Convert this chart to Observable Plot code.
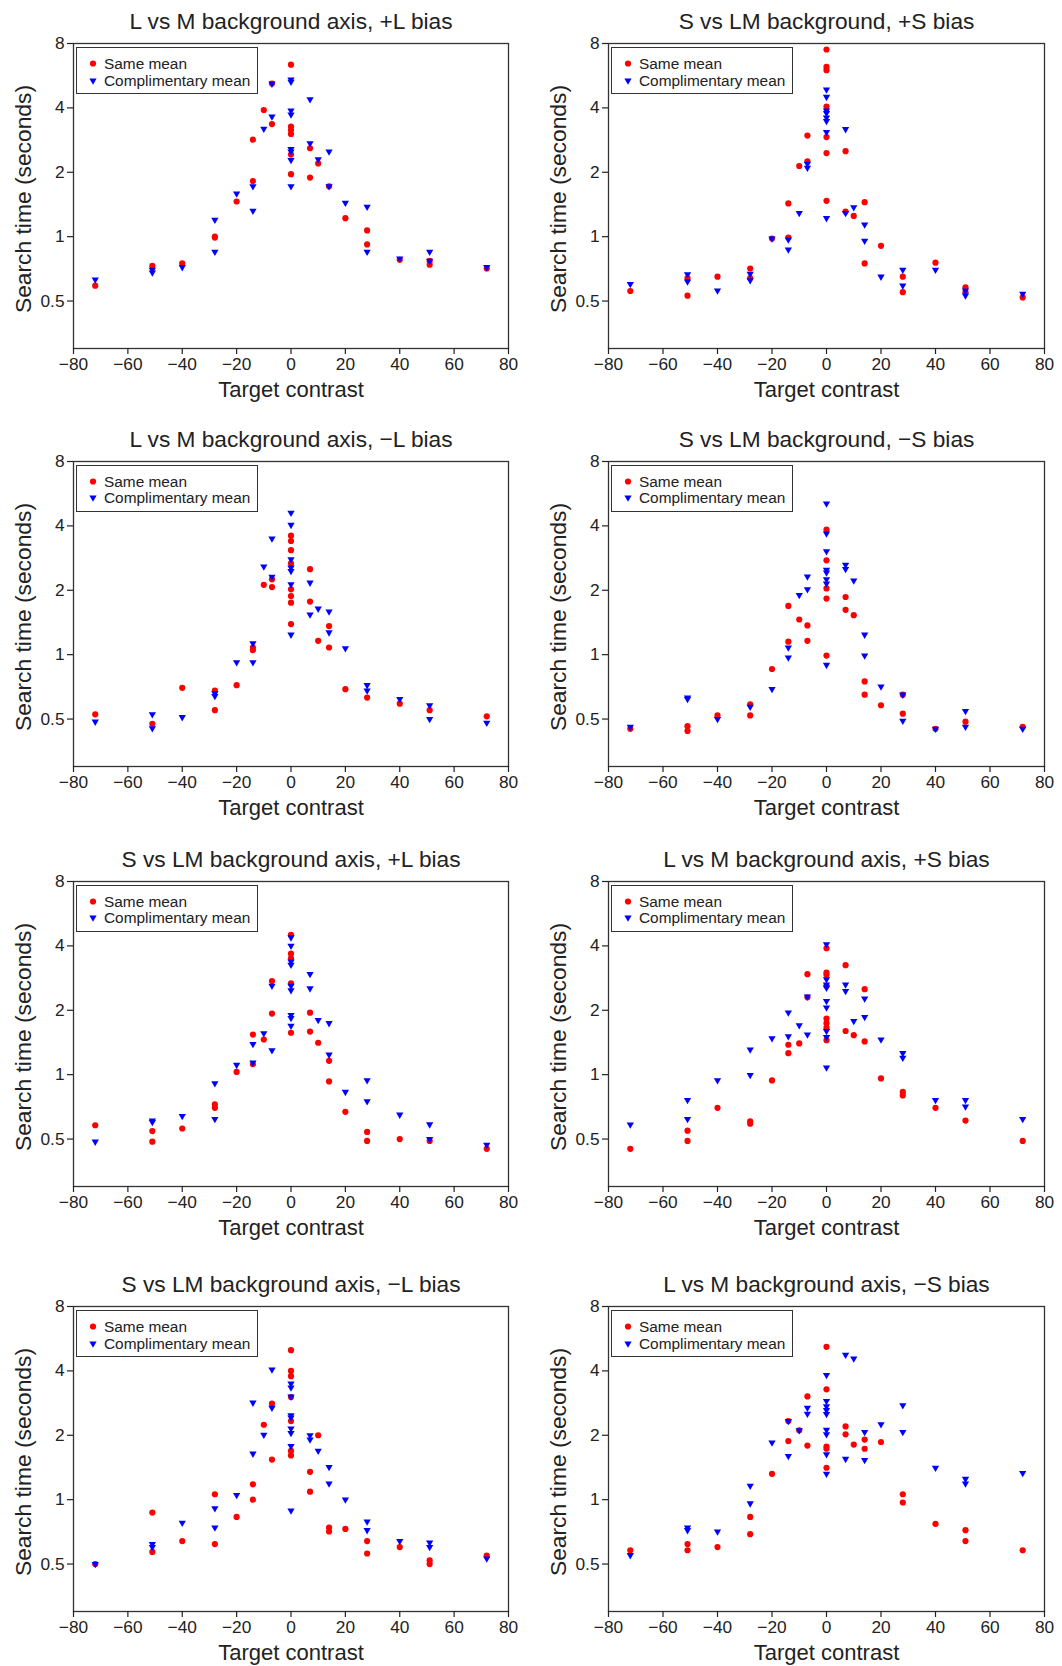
<!DOCTYPE html>
<html><head><meta charset="utf-8">
<script src="https://cdn.jsdelivr.net/npm/d3@7"></script>
<script src="https://cdn.jsdelivr.net/npm/@observablehq/plot@0.6"></script>
<style>
html,body{margin:0;padding:0;background:#fff;overflow:hidden}
#root{position:relative;width:1062px;height:1666px;overflow:hidden;font-family:"Liberation Sans",Arial,sans-serif;background:#fff}
.panel{position:absolute}
.panel svg{overflow:visible}
.legend{position:absolute;width:182px;height:47px;border:1.3px solid #333;box-sizing:border-box;background:#fff;font-size:15.4px;color:#222}
.legend .row{position:absolute;left:0;height:17px;line-height:17px;white-space:nowrap}
.legend svg{position:absolute;left:0;top:0;overflow:visible}
.legend span{position:absolute;left:27px;top:0}
</style>
</head><body><div id="root"></div>
<script>
const titles = [
  "L vs M background axis, +L bias",
  "S vs LM background, +S bias",
  "L vs M background axis, \u2212L bias",
  "S vs LM background, \u2212S bias",
  "S vs LM background axis, +L bias",
  "L vs M background axis, +S bias",
  "S vs LM background axis, \u2212L bias",
  "L vs M background axis, \u2212S bias"
];
const seriesNames = ["Same mean", "Complimentary mean"];
const xTicks = [-80, -60, -40, -20, 0, 20, 40, 60, 80];
const yTicks = [0.5, 1, 2, 4, 8];
const xLabel = "Target contrast";
const yLabel = "Search time (seconds)";

const p1Same = [[-72,0.59],[-51,0.73],[-40,0.75],[-28,0.99],[-28,1.0],[-20,1.46],[-14,2.84],[-14,1.82],[-10,3.91],[-7,5.2],[-7,3.36],[0,6.37],[0,3.27],[0,3.15],[0,3.02],[0,2.42],[0,1.96],[7,2.59],[7,1.89],[10,2.2],[14,1.72],[20,1.22],[28,1.07],[28,0.92],[40,0.78],[51,0.77],[51,0.74],[72,0.71]];
const p1Comp = [[-72,0.63],[-51,0.68],[-51,0.70],[-40,0.72],[-28,1.2],[-28,0.85],[-20,1.59],[-14,1.72],[-14,1.32],[-10,3.19],[-7,5.19],[-7,3.64],[0,5.42],[0,5.3],[0,3.89],[0,3.72],[0,2.57],[0,2.50],[0,2.28],[0,1.72],[7,4.39],[7,2.73],[10,2.30],[14,2.50],[14,1.72],[20,1.44],[28,1.38],[28,0.85],[40,0.79],[51,0.85],[51,0.77],[72,0.72]];

const p2Same = [[-72,0.557],[-51,0.64],[-51,0.53],[-40,0.65],[-28,0.71],[-28,0.64],[-20,0.98],[-14,1.43],[-14,0.99],[-10,2.14],[-7,2.97],[-7,2.25],[0,7.5],[0,6.22],[0,6.0],[0,4.06],[0,2.92],[0,2.46],[0,1.47],[7,2.51],[7,1.31],[10,1.25],[14,1.45],[14,0.75],[20,0.906],[28,0.65],[28,0.55],[40,0.756],[51,0.58],[51,0.55],[72,0.52]];
const p2Comp = [[-72,0.60],[-51,0.667],[-51,0.616],[-40,0.56],[-28,0.67],[-28,0.625],[-20,0.98],[-14,0.97],[-14,0.87],[-10,1.29],[-7,2.19],[-7,2.10],[0,4.87],[0,4.50],[0,3.89],[0,3.78],[0,3.60],[0,3.47],[0,3.08],[0,1.22],[7,3.18],[7,1.29],[10,1.37],[14,1.14],[14,0.956],[20,0.65],[28,0.70],[28,0.59],[40,0.70],[51,0.56],[51,0.53],[72,0.54]];

const p3Same = [[-72,0.526],[-51,0.475],[-40,0.70],[-28,0.68],[-28,0.55],[-20,0.72],[-14,1.08],[-14,1.05],[-10,2.12],[-7,2.25],[-7,2.07],[0,3.6],[0,3.4],[0,3.08],[0,2.67],[0,2.02],[0,1.88],[0,1.75],[0,1.39],[7,2.51],[7,1.77],[10,1.16],[14,1.36],[14,1.08],[20,0.69],[28,0.63],[40,0.59],[51,0.55],[72,0.515]];
const p3Comp = [[-72,0.486],[-51,0.526],[-51,0.452],[-40,0.51],[-28,0.66],[-28,0.64],[-20,0.92],[-14,1.13],[-14,0.92],[-10,2.58],[-7,3.49],[-7,2.31],[0,4.60],[0,4.04],[0,2.79],[0,2.55],[0,2.46],[0,2.13],[0,1.24],[7,2.17],[7,1.54],[10,1.64],[14,1.59],[14,1.27],[20,1.07],[28,0.72],[28,0.68],[40,0.62],[51,0.58],[51,0.50],[72,0.48]];

const p4Same = [[-72,0.45],[-51,0.463],[-51,0.44],[-40,0.52],[-28,0.586],[-28,0.52],[-20,0.857],[-14,1.69],[-14,1.15],[-10,1.46],[-7,1.37],[-7,1.16],[0,3.84],[0,2.76],[0,2.04],[0,1.83],[0,0.99],[7,1.86],[7,1.62],[10,1.53],[14,0.75],[14,0.65],[20,0.58],[28,0.65],[28,0.53],[40,0.45],[51,0.486],[72,0.46]];
const p4Comp = [[-72,0.46],[-51,0.63],[-51,0.62],[-40,0.50],[-28,0.57],[-20,0.69],[-14,1.08],[-14,0.97],[-10,1.90],[-7,2.32],[-7,2.02],[0,5.09],[0,3.68],[0,3.04],[0,2.49],[0,2.42],[0,2.25],[0,2.15],[0,0.895],[7,2.63],[7,2.51],[10,2.22],[14,1.24],[14,0.99],[20,0.71],[28,0.65],[28,0.49],[40,0.45],[51,0.545],[51,0.46],[72,0.45]];

const p5Same = [[-72,0.58],[-51,0.545],[-51,0.486],[-40,0.56],[-28,0.726],[-28,0.70],[-20,1.03],[-14,1.54],[-14,1.12],[-10,1.46],[-7,2.74],[-7,1.93],[0,4.50],[0,3.68],[0,3.50],[0,2.67],[0,1.57],[7,1.95],[7,1.59],[10,1.41],[14,1.16],[14,0.93],[20,0.67],[28,0.54],[28,0.49],[40,0.50],[51,0.49],[72,0.45]];
const p5Comp = [[-72,0.486],[-51,0.61],[-51,0.60],[-40,0.64],[-28,0.91],[-28,0.62],[-20,1.11],[-14,1.39],[-14,1.14],[-10,1.56],[-7,2.60],[-7,1.30],[0,4.38],[0,4.0],[0,3.38],[0,3.26],[0,2.60],[0,2.48],[0,1.90],[0,1.84],[0,1.69],[7,2.95],[7,2.53],[10,1.80],[14,1.74],[14,1.24],[20,0.83],[28,0.94],[28,0.75],[40,0.65],[51,0.585],[51,0.50],[72,0.47]];

const p6Same = [[-72,0.45],[-51,0.547],[-51,0.49],[-40,0.70],[-28,0.605],[-28,0.59],[-20,0.94],[-14,1.38],[-14,1.26],[-10,1.40],[-7,2.95],[-7,2.3],[0,3.90],[0,3.0],[0,2.93],[0,2.6],[0,1.83],[0,1.74],[0,1.66],[0,1.45],[7,3.25],[7,1.60],[10,1.53],[14,2.51],[14,1.43],[20,0.96],[28,0.83],[28,0.80],[40,0.70],[51,0.61],[72,0.49]];
const p6Comp = [[-72,0.584],[-51,0.76],[-51,0.62],[-40,0.94],[-28,1.31],[-28,0.995],[-20,1.48],[-14,1.95],[-14,1.51],[-10,1.70],[-7,2.32],[-7,1.54],[0,4.07],[0,2.79],[0,2.64],[0,2.55],[0,2.21],[0,2.06],[0,1.60],[0,1.50],[0,1.08],[7,2.64],[7,2.46],[10,1.78],[14,2.27],[14,1.86],[20,1.46],[28,1.26],[28,1.20],[40,0.76],[51,0.76],[51,0.71],[72,0.62]];

const p7Same = [[-72,0.50],[-51,0.87],[-51,0.57],[-40,0.64],[-28,1.06],[-28,0.62],[-20,0.83],[-14,1.18],[-14,1.0],[-10,2.24],[-7,2.81],[-7,1.54],[0,5.0],[0,4.0],[0,3.78],[0,3.02],[0,2.33],[0,1.69],[0,1.61],[7,1.35],[7,1.09],[10,2.0],[14,0.74],[14,0.71],[20,0.73],[28,0.64],[28,0.56],[40,0.60],[51,0.52],[51,0.50],[72,0.547]];
const p7Comp = [[-72,0.50],[-51,0.62],[-51,0.60],[-40,0.78],[-28,0.91],[-28,0.74],[-20,1.05],[-14,2.84],[-14,1.64],[-10,2.01],[-7,4.06],[-7,2.69],[0,3.49],[0,3.34],[0,3.03],[0,2.48],[0,2.42],[0,2.15],[0,2.05],[0,1.78],[0,0.89],[7,2.0],[7,1.91],[10,1.69],[14,1.42],[14,1.19],[20,1.0],[28,0.79],[28,0.72],[40,0.64],[51,0.63],[51,0.60],[72,0.53]];

const p8Same = [[-72,0.58],[-51,0.62],[-51,0.58],[-40,0.60],[-28,0.83],[-28,0.69],[-20,1.32],[-14,2.33],[-14,1.88],[-10,2.11],[-7,3.04],[-7,1.79],[0,5.18],[0,3.28],[0,1.77],[0,1.73],[0,1.41],[7,2.20],[7,2.02],[10,1.81],[14,1.91],[14,1.73],[20,1.86],[28,1.06],[28,0.97],[40,0.77],[51,0.72],[51,0.64],[72,0.58]];
const p8Comp = [[-72,0.55],[-51,0.74],[-51,0.72],[-40,0.71],[-28,1.16],[-28,0.96],[-20,1.85],[-14,2.33],[-14,1.60],[-10,2.11],[-7,2.69],[-7,2.52],[0,3.82],[0,2.89],[0,2.73],[0,2.62],[0,2.51],[0,2.12],[0,2.02],[0,1.63],[0,1.32],[7,4.75],[7,1.55],[10,4.57],[14,2.07],[14,1.53],[20,2.25],[28,2.76],[28,2.07],[40,1.41],[51,1.25],[51,1.19],[72,1.33]];

const sameSeries = [p1Same, p2Same, p3Same, p4Same, p5Same, p6Same, p7Same, p8Same];
const compSeries = [p1Comp, p2Comp, p3Comp, p4Comp, p5Comp, p6Comp, p7Comp, p8Comp];

const RED = "#ff0000", BLUE = "#0000ff", INK = "#222";
const colLeft = [0, 531];
const rowTop = [0, 417.5, 837.5, 1263];
const mLeft = [73, 77];
const mRight = [23, 18];
const mTop = 43, frameH = 305, mBottom = 72;
const rDot = 3.1, rTri = 2.7;

function makePanel(i) {
  const col = i % 2;
  return Plot.plot({
    width: 531,
    height: mTop + frameH + mBottom,
    marginTop: mTop,
    marginBottom: mBottom,
    marginLeft: mLeft[col],
    marginRight: mRight[col],
    style: {fontFamily: "'Liberation Sans', Arial, sans-serif", fontSize: "17.3px", color: INK, background: "transparent", overflow: "visible"},
    x: {domain: [-80, 80]},
    y: {type: "log", domain: [0.3, 8]},
    marks: [
      Plot.frame({stroke: "#333", strokeWidth: 1.3}),
      Plot.axisX({ticks: xTicks, label: null, tickSize: 6, tickPadding: 3, strokeWidth: 1.2}),
      Plot.axisY({ticks: yTicks, tickFormat: () => "", label: null, tickSize: 6, tickPadding: 3, strokeWidth: 1.2}),
      Plot.text(yTicks, {y: d => d, text: d => String(d), frameAnchor: "left", textAnchor: "end", lineAnchor: "middle", dx: -9, fontSize: 17.3, fill: INK}),
      Plot.dot(sameSeries[i], {x: d => d[0], y: d => d[1], r: rDot, fill: RED, stroke: "none"}),
      Plot.dot(compSeries[i], {x: d => d[0], y: d => d[1], symbol: "triangle", rotate: 180, r: rTri, fill: BLUE, stroke: "none"}),
      Plot.text([titles[i]], {text: d => d, frameAnchor: "top", lineAnchor: "middle", textAnchor: "middle", dy: -22, fontSize: 22.7, fill: INK}),
      Plot.text([xLabel], {text: d => d, frameAnchor: "bottom", lineAnchor: "middle", textAnchor: "middle", dy: 41, fontSize: 22, fill: INK}),
      Plot.text([yLabel], {text: d => d, frameAnchor: "left", lineAnchor: "middle", textAnchor: "middle", rotate: -90, dx: -50, dy: 3, fontSize: 22.8, fill: INK})
    ]
  });
}

function makeLegend(left, top) {
  const lg = document.createElement("div");
  lg.className = "legend";
  lg.style.left = left + "px";
  lg.style.top = top + "px";
  const tri = d3.symbol(d3.symbolTriangle, Math.PI * rTri * rTri)();
  seriesNames.forEach((name, k) => {
    const row = document.createElement("div");
    row.className = "row";
    row.style.top = (k === 0 ? 7 : 23.5) + "px";
    row.style.width = "178px";
    const ns = "http://www.w3.org/2000/svg";
    const s = document.createElementNS(ns, "svg");
    s.setAttribute("width", 20); s.setAttribute("height", 17);
    if (k === 0) {
      const c = document.createElementNS(ns, "circle");
      c.setAttribute("cx", 16); c.setAttribute("cy", 8.5); c.setAttribute("r", rDot); c.setAttribute("fill", RED);
      s.appendChild(c);
    } else {
      const p = document.createElementNS(ns, "path");
      p.setAttribute("d", tri); p.setAttribute("fill", BLUE);
      p.setAttribute("transform", "translate(16,8.5) rotate(180)");
      s.appendChild(p);
    }
    row.appendChild(s);
    const t = document.createElement("span");
    t.textContent = name;
    row.appendChild(t);
    lg.appendChild(row);
  });
  return lg;
}

const root = document.getElementById("root");
for (let i = 0; i < 8; i++) {
  const col = i % 2, row = Math.floor(i / 2);
  const wrap = document.createElement("div");
  wrap.className = "panel";
  wrap.style.left = colLeft[col] + "px";
  wrap.style.top = rowTop[row] + "px";
  wrap.appendChild(makePanel(i));
  root.appendChild(wrap);
  root.appendChild(makeLegend(colLeft[col] + mLeft[col] + 3, rowTop[row] + mTop + 4));
}
</script>
</body></html>
